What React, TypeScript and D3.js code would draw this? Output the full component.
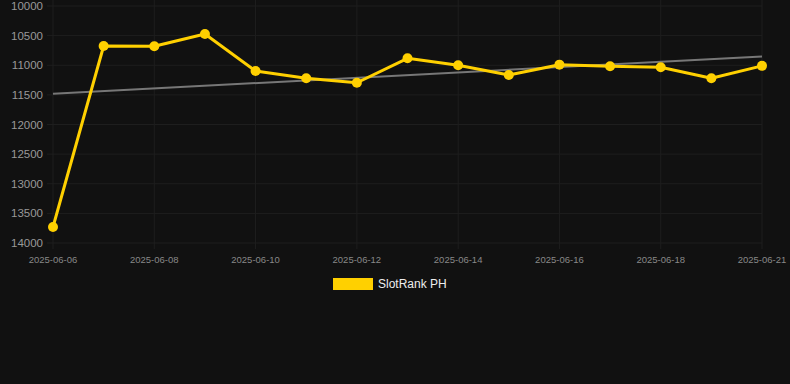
import React from "react";
import * as d3 from "d3";

const categories = [
  "2025-06-06", "2025-06-07", "2025-06-08", "2025-06-09", "2025-06-10",
  "2025-06-11", "2025-06-12", "2025-06-13", "2025-06-14", "2025-06-15",
  "2025-06-16", "2025-06-17", "2025-06-18", "2025-06-19", "2025-06-21",
];
const values = [
  13730, 10675, 10680, 10473, 11097, 11220, 11295, 10883, 11000, 11165,
  10990, 11018, 11035, 11220, 11010,
];
const yTicks = [10000, 10500, 11000, 11500, 12000, 12500, 13000, 13500, 14000];
const seriesName = "SlotRank PH";

const W = 790, H = 384;
const M = { left: 53, right: 28, top: 6, bottom: 141 };

export default function App() {
  const x = d3.scalePoint<string>().domain(categories).range([M.left, W - M.right]);
  const y = d3.scaleLinear().domain([10000, 14000]).range([M.top, H - M.bottom]);

  const n = values.length;
  const xs = values.map((_, i) => i);
  const mx = d3.mean(xs)!, my = d3.mean(values)!;
  const sxy = d3.sum(xs, (i) => (i - mx) * (values[i] - my));
  const sxx = d3.sum(xs, (i) => (i - mx) ** 2);
  const slope = sxy / sxx;
  const t0 = my - slope * mx;
  const t1 = t0 + slope * (n - 1);

  const line = d3.line<number>().x((_, i) => x(categories[i])!).y((d) => y(d));
  const tickIdx = categories.map((_, i) => i).filter((i) => i % 2 === 0 || i === n - 1);
  const x0 = M.left, x1 = W - M.right;
  const yBottom = H - M.bottom;

  return (
    <div style={{ position: "fixed", left: 0, top: 0, width: W, height: H }}>
      <svg width={W} height={H} style={{ display: "block", background: "#111111" }}
        fontFamily="Liberation Sans, Arial, sans-serif">
        <rect width={W} height={H} fill="#111111" />
        {yTicks.map((t) => (
          <g key={t}>
            <line x1={x0 - 6} x2={x1} y1={y(t)} y2={y(t)} stroke="#1e1e1e" strokeWidth={1} />
            <text x={43} y={y(t)} dy="0.35em" textAnchor="end" fontSize={11.5} fill="#999">{t}</text>
          </g>
        ))}
        {tickIdx.map((i) => (
          <g key={i}>
            <line x1={x(categories[i])} x2={x(categories[i])} y1={0} y2={yBottom + 6} stroke="#1e1e1e" strokeWidth={1} />
            <text x={x(categories[i])} y={yBottom + 20} textAnchor="middle" fontSize={9.5} fill="#888">{categories[i]}</text>
          </g>
        ))}
        <line x1={x(categories[0])} x2={x(categories[n - 1])} y1={y(t0)} y2={y(t1)} stroke="#777" strokeWidth={2} />
        <path d={line(values)!} fill="none" stroke="#FFD000" strokeWidth={3} strokeLinejoin="round" />
        {values.map((v, i) => (
          <circle key={i} cx={x(categories[i])} cy={y(v)} r={5} fill="#FFD000" />
        ))}
        <rect x={333} y={278} width={40} height={12} fill="#FFD000" />
        <text x={378} y={284} dy="0.35em" fontSize={12} fill="#eee">{seriesName}</text>
      </svg>
    </div>
  );
}
